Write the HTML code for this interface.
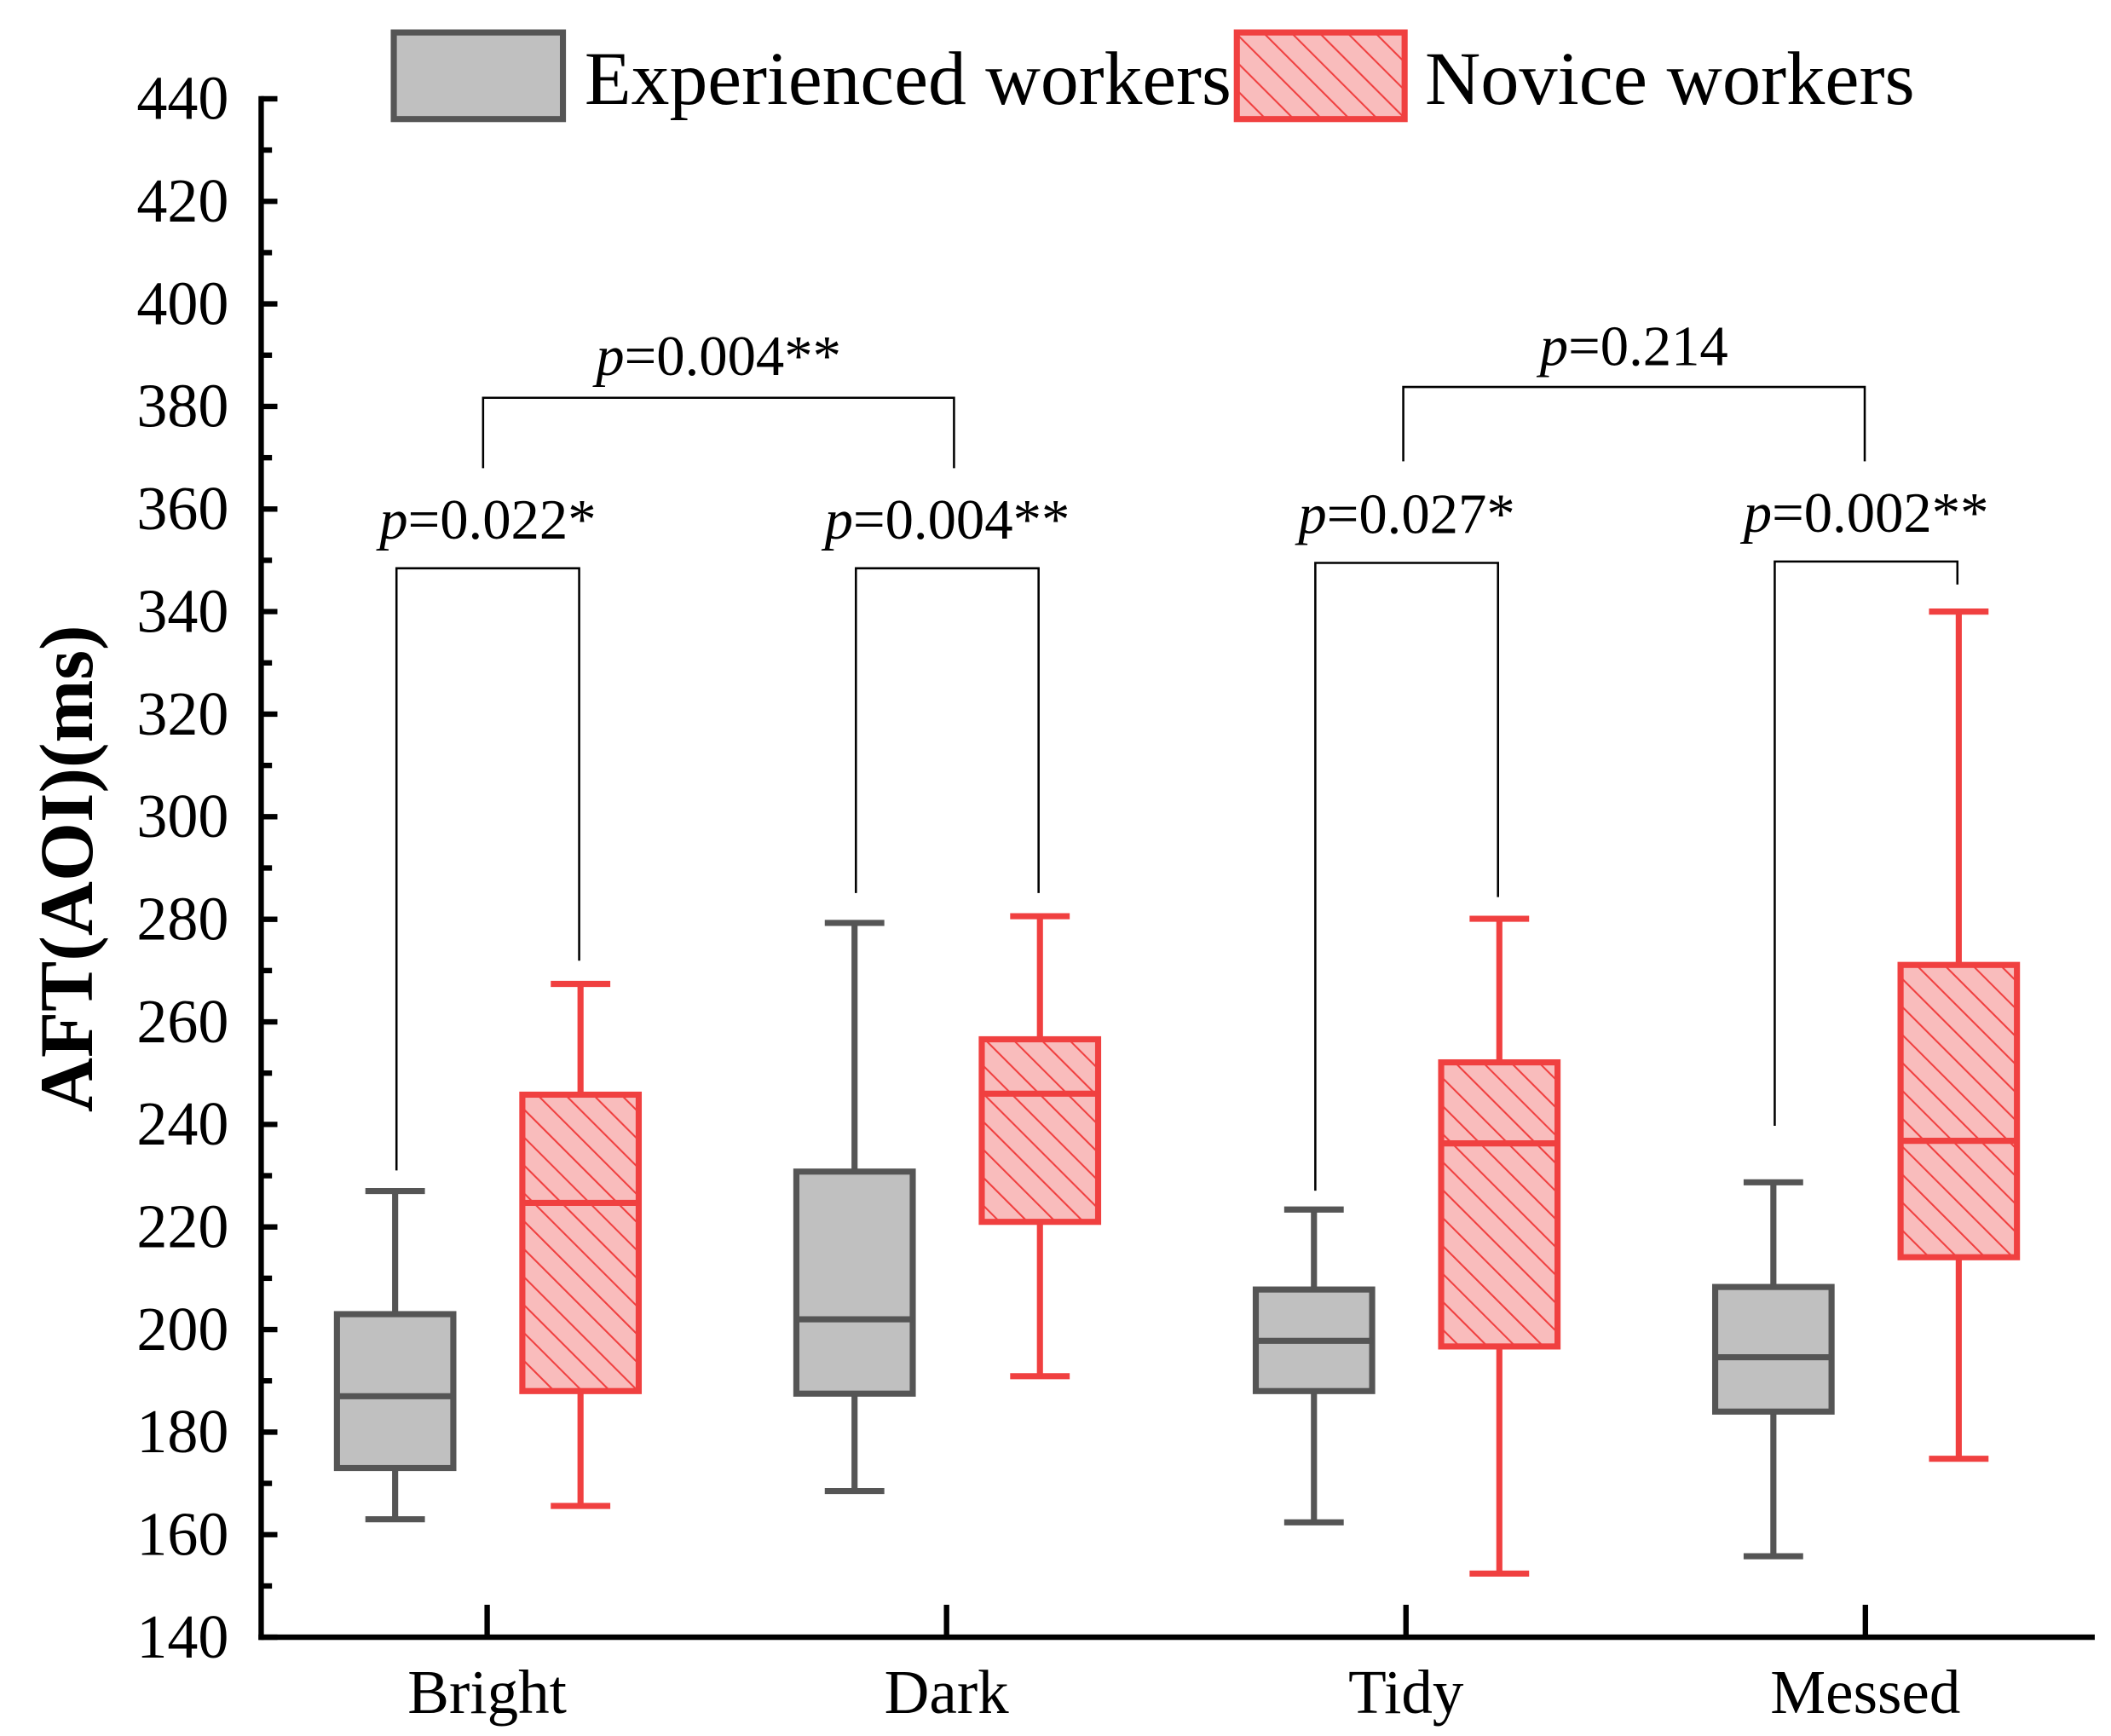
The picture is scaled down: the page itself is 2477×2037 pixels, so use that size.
<!DOCTYPE html>
<html><head><meta charset="utf-8"><style>
html,body{margin:0;padding:0;background:#fff;}
svg{display:block;}
text{font-family:"Liberation Serif",serif;}
</style></head><body>
<svg id="chart" width="2477" height="2037" viewBox="0 0 1560 1283" preserveAspectRatio="none" xmlns="http://www.w3.org/2000/svg">
<defs>
<pattern id="hatch" patternUnits="userSpaceOnUse" width="14.6" height="14.6" patternTransform="rotate(-45)">
<rect width="14.6" height="14.6" fill="#f9bcbc"/>
<line x1="0" y1="0" x2="0" y2="14.6" stroke="#f04040" stroke-width="2.6"/>
</pattern>
</defs>
<g id="axes"></g>
<g id="marks"></g>
<g id="annot"></g>
<g>
<rect x="291" y="24" width="125" height="64" fill="#c0c0c0" stroke="#555" stroke-width="4.5"/>
<text x="432" y="77" font-size="56" textLength="478" lengthAdjust="spacingAndGlyphs">Experienced workers</text>
<rect x="914" y="24" width="124" height="64" fill="url(#hatch)" stroke="#f04040" stroke-width="4.5"/>
<text x="1053" y="77" font-size="56" textLength="362" lengthAdjust="spacingAndGlyphs">Novice workers</text>
</g>
<text transform="translate(68,642) rotate(-90)" text-anchor="middle" font-size="56" font-weight="bold" textLength="360" lengthAdjust="spacingAndGlyphs">AFT(AOI)(ms)</text>
</svg>
<script>
const categories = ["Bright","Dark","Tidy","Messed"];
const expLow = [163,168.5,162.4,155.8];
const expQ1 = [173,187.5,188,184];
const expMed = [187,202,197.8,194.6];
const expQ3 = [203,230.8,207.8,208.3];
const expHigh = [227,279.3,223.4,228.7];
const novLow = [165.6,190.9,152.4,174.8];
const novQ1 = [188,221,196.7,214.1];
const novMed = [224.7,246,236.3,236.8];
const novQ3 = [245.8,256.6,252.1,271.1];
const novHigh = [267.4,280.6,280.1,340];
const yTicks = [140,160,180,200,220,240,260,280,300,320,340,360,380,400,420,440];
const pairLabels = ["p=0.022*","p=0.004**","p=0.027*","p=0.002**"];
const groupLabels = ["p=0.004**","p=0.214"];

const NS="http://www.w3.org/2000/svg";
const X0=193, X1=1548, Y0=1210, Y1=73;
const yMin=140, yMax=440;
function y(v){return Y0-(v-yMin)/(yMax-yMin)*(Y0-Y1);}
const cx0=360, cstep=339.5;
function x(i){return cx0+i*cstep;}
function mk(tag,attrs,parent){const e=document.createElementNS(NS,tag);for(const k in attrs)e.setAttribute(k,attrs[k]);parent.appendChild(e);return e;}
const axes=document.getElementById('axes'), marks=document.getElementById('marks'), annot=document.getElementById('annot');

let a=mk('line',{x1:X0,y1:Y1-2,x2:X0,y2:Y0+2,stroke:'#000','stroke-width':4},axes);


a=mk('line',{x1:X0-2,y1:Y0,x2:X1,y2:Y0,stroke:'#000','stroke-width':4},axes);


yTicks.forEach((v,i)=>{
  const t=mk('line',{x1:X0,y1:y(v),x2:X0+12,y2:y(v),stroke:'#000','stroke-width':4},axes);
  
  
  const l=mk('text',{x:X0-24,y:y(v)+15,'text-anchor':'end','font-size':46,textLength:68,lengthAdjust:'spacingAndGlyphs'},axes);
  l.textContent=v;
  
  
  if(i<yTicks.length-1){
    const m=mk('line',{x1:X0,y1:y(v+10),x2:X0+8,y2:y(v+10),stroke:'#000','stroke-width':4},axes);
    
    
  }
});
categories.forEach((c,i)=>{
  const t=mk('line',{x1:x(i),y1:Y0,x2:x(i),y2:Y0-24,stroke:'#000','stroke-width':4},axes);
  
  
  const l=mk('text',{x:x(i),y:Y0+56,'text-anchor':'middle','font-size':46},axes);
  l.textContent=c;
  
  
});

function box(cx,lo,q1,md,q3,hi,stroke,fill,name){
  const g=mk('g',{},marks);
  
  
  const w=86, cap=44, sw=4.5;
  mk('line',{x1:cx,y1:y(hi),x2:cx,y2:y(q3),stroke:stroke,'stroke-width':sw},g);
  mk('line',{x1:cx,y1:y(q1),x2:cx,y2:y(lo),stroke:stroke,'stroke-width':sw},g);
  mk('line',{x1:cx-cap/2,y1:y(hi),x2:cx+cap/2,y2:y(hi),stroke:stroke,'stroke-width':sw},g);
  mk('line',{x1:cx-cap/2,y1:y(lo),x2:cx+cap/2,y2:y(lo),stroke:stroke,'stroke-width':sw},g);
  mk('rect',{x:cx-w/2,y:y(q3),width:w,height:y(q1)-y(q3),fill:fill,stroke:stroke,'stroke-width':sw},g);
  mk('line',{x1:cx-w/2,y1:y(md),x2:cx+w/2,y2:y(md),stroke:stroke,'stroke-width':sw},g);
}
categories.forEach((c,i)=>{
  box(x(i)-68,expLow[i],expQ1[i],expMed[i],expQ3[i],expHigh[i],'#555','#c0c0c0','box-experienced-'+c.toLowerCase());
  box(x(i)+69,novLow[i],novQ1[i],novMed[i],novQ3[i],novHigh[i],'#f04040','url(#hatch)','box-novice-'+c.toLowerCase());
});

function bracket(xa,xb,yTop,ya,yb,label,ty,name){
  const p=mk('path',{d:`M${xa},${ya} L${xa},${yTop} L${xb},${yTop} L${xb},${yb}`,fill:'none',stroke:'#000','stroke-width':1.6},annot);
  
  
  const t=mk('text',{x:(xa+xb)/2,y:ty,'text-anchor':'middle','font-size':42},annot);
  const ts=mk('tspan',{'font-style':'italic'},t);ts.textContent='p';
  t.appendChild(document.createTextNode(label.slice(1)));
  
  
}
const pTop=[420,420,416,415], pL=[865,660,880,832], pR=[710,660,663,432];
categories.forEach((c,i)=>{
  bracket(x(i)-67,x(i)+68,pTop[i],pL[i],pR[i],pairLabels[i],pTop[i]-22,'p-value-'+c.toLowerCase());
});
bracket(357,705,294,346,346,groupLabels[0],277,'p-value-bright-dark');
bracket(1037,1378,286,341,341,groupLabels[1],270,'p-value-tidy-messed');
</script>
</body></html>
